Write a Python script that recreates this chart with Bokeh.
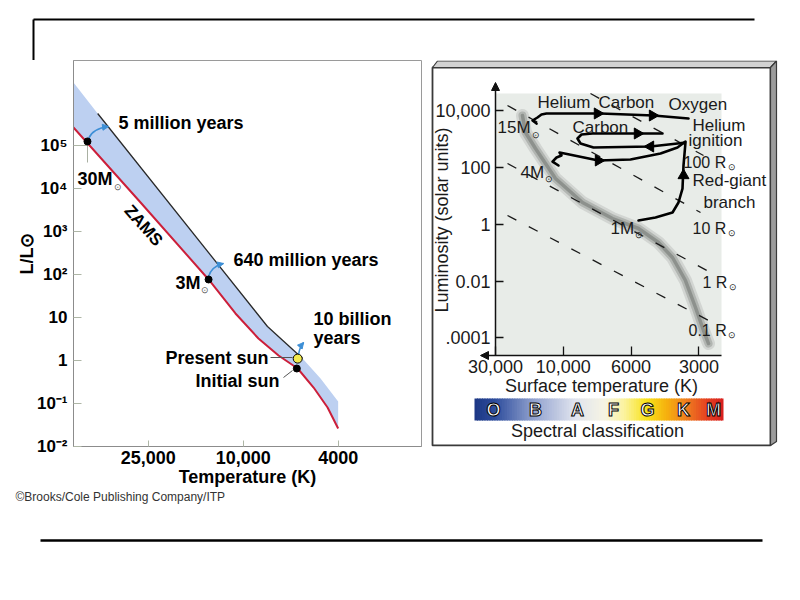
import math
from bokeh.plotting import figure
from bokeh.layouts import column, row
from bokeh.core.properties import value
from bokeh.models import (Range1d, FixedTicker, Label, Arrow, NormalHead, LogScale,
                          LogAxis, LinearAxis)
from bokeh.embed import file_html
from bokeh.resources import INLINE

FONT = "Liberation Sans"

# ======================= DATA =======================
# ---- left panel: main-sequence band, temperature (K) vs luminosity (L_sun)
left_xticks = [25000, 10000, 4000]
left_xtick_labels = ["25,000", "10,000", "4000"]
left_yticks = [1e5, 1e4, 1e3, 1e2, 10.0, 1.0, 0.1, 0.01]
left_ytick_labels = ["10⁵", "10⁴", "10³", "10²", "10", "1", "10⁻¹", "10⁻²"]

# zero-age main sequence (red line)
zams_T = [51400, 26900, 13960, 10770, 8630, 7110, 5910, 5070, 4430, 4000]
zams_L = [269000, 4800, 76.9, 12.4, 3.24, 1.30, 0.647, 0.233, 0.0798, 0.0259]
# upper edge of the shaded band
band_top_T = [51400, 40700, 7910, 5640, 4740, 4000]
band_top_L = [3.0e6, 5.69e5, 6.17, 1.11, 0.378, 0.110]
# marked stars on the ZAMS: 30 M_sun, 3 M_sun, initial sun
star_T = [44900, 13960, 5960]
star_L = [127000, 76.9, 0.647]
present_sun_T = [5910]
present_sun_L = [1.10]
# evolution arrows (start, control, end)
evo_T0 = [44400, 13960, 5860]
evo_L0 = [148600, 90.3, 1.37]
evo_Tc = [42760, 13590, 5810]
evo_Lc = [254000, 154.6, 2.0]
evo_T1 = [36640, 12090, 5580]
evo_L1 = [283000, 181.6, 2.62]

# ---- right panel: H-R diagram; x is the position on the temperature axis
# (0 = 30,000 K, 1 = 10,000 K, 2 = 6000 K, 3 = 3000 K)
right_xticks = [0, 1, 2, 3]
right_xtick_labels = ["30,000", "10,000", "6000", "3000"]
right_yticks = [1e4, 1e2, 1.0, 1e-2, 1e-4]
right_ytick_labels = ["10,000", "100", "1", "0.01", ".0001"]

ms_u = [0.398, 0.442, 0.590, 0.885, 1.283, 1.726, 2.109, 2.404, 2.611, 2.802, 2.950, 3.068, 3.142]
ms_L = [6560, 1660, 454, 40.1, 5.74, 1.57, 0.70, 0.225, 0.067, 0.0104, 1.17e-3, 1.82e-4, 6.35e-5]

trk15_u = [0.605, 0.546, 0.619, 0.678, 0.752, 1.549, 2.330, 2.847]
trk15_L = [3410, 4380, 5580, 7110, 7730, 7730, 6560, 5150]
trk4_u = [0.929, 0.841, 0.900, 0.973, 0.944, 1.018, 1.519, 1.991, 2.434, 2.684, 2.802]
trk4_L = [115, 158, 219, 258, 329, 303, 172, 187, 303, 492, 800]
trk1_u = [2.109, 2.360, 2.611, 2.699, 2.758, 2.773, 2.802, 2.684, 2.286, 1.445, 1.254, 1.209,
          1.268, 1.431, 2.463]
trk1_L = [1.34, 1.71, 2.56, 5.74, 17.8, 115, 738, 681, 533, 492, 681, 1020, 1410, 1530, 1530]

# lines of constant radius (100, 10, 1, 0.1 R_sun): start and end points
radius_u0 = [1.401, 0.177, 0.177, 0.177]
radius_L0 = [38900, 14750, 135, 2.0]
radius_u1 = [3.068, 3.024, 3.201, 3.201]
radius_L1 = [258, 2.56, 0.0184, 3.48e-4]

arrow_u = [1.504, 2.316, 2.094, 2.286, 1.519, 2.773]
arrow_L = [7730, 6560, 1530, 533, 172, 51.1]
arrow_angle = [-math.pi / 2, -math.pi / 2, -math.pi / 2, math.pi / 2, -math.pi / 2, 0.0]

spectral_classes = ["O", "B", "A", "F", "G", "K", "M"]


# ============ helpers: page pixel -> data, only for text & decorations ============
def lf_T(px):
    return 10 ** (4 + (242.67 - px) / 238.7)


def lf_L(py):
    return 10 ** (2 + (274.1 - py) / 42.9)


def hr_u(px):
    return (px - 495.0) / 67.8


def hr_L(py):
    return 10 ** ((223.6 - py) / 28.45)


def label(p, x, y, text, size, style="normal", align="left", angle=0.0, color="black",
          baseline="middle", rng="default"):
    p.add_layout(Label(x=x, y=y, text=text, text_font=FONT, text_font_size=size,
                       text_font_style=style, text_align=align, text_baseline=baseline,
                       angle=angle, text_color=color, x_range_name=rng, y_range_name=rng))


def blank(width, height):
    f = figure(width=width, height=height, x_range=Range1d(0, width), y_range=Range1d(height, 0),
               x_axis_type=None, y_axis_type=None, output_backend="svg", toolbar_location=None,
               min_border=0)
    f.outline_line_color = None
    f.grid.visible = False
    return f


# ================================ header (page y 0..60) ================================
header = blank(796, 60)
header.segment(x0=[33, 33], y0=[19, 19], x1=[754, 33], y1=[19, 60], line_color="black",
               line_width=2)

# ============================== left panel (page x 0..430, y 60..490) ==============================
left = figure(width=430, height=430, x_axis_type="log", y_axis_type="log",
              x_range=Range1d(lf_T(73), lf_T(421)), y_range=Range1d(lf_L(446), lf_L(60)),
              output_backend="svg", toolbar_location=None,
              min_border_left=73, min_border_right=9, min_border_top=0, min_border_bottom=44)
left.grid.visible = False
left.outline_line_color = "#9a9a9a"
xa, ya = left.xaxis[0], left.yaxis[0]
xa.ticker = FixedTicker(ticks=left_xticks)
xa.major_label_overrides = dict(zip(left_xticks, left_xtick_labels))
ya.ticker = FixedTicker(ticks=left_yticks)
ya.major_label_overrides = dict(zip(left_yticks, left_ytick_labels))
for ax in (xa, ya):
    ax.axis_line_color = "#8c8c8c"
    ax.major_tick_line_color = "#aeb6a6"
    ax.major_tick_out = 0
    ax.minor_tick_line_color = None
    ax.major_label_text_font = FONT
    ax.major_label_text_font_style = "bold"
    ax.major_label_text_color = "black"
    ax.axis_label_text_font = FONT
    ax.axis_label_text_font_style = "bold"
    ax.axis_label_text_font_size = "18px"
    ax.axis_label_text_color = "black"
ya.major_tick_in = 8
xa.major_tick_in = 6
ya.major_label_text_font_size = "17px"
xa.major_label_text_font_size = "18px"
ya.major_label_standoff = 6
xa.major_label_standoff = 4
ya.axis_label = "L/L⊙"
ya.axis_label_standoff = -3
xa.axis_label = "Temperature (K)"
xa.axis_label_standoff = 0

band_T = band_top_T + zams_T[::-1]
band_L = band_top_L + zams_L[::-1]
left.patch(band_T, band_L, fill_color="#bdd0f1", line_color=None)
left.line(band_top_T[1:4], band_top_L[1:4], line_color="#2a2a2a", line_width=1.3)
left.line(zams_T, zams_L, line_color="#cc1f3a", line_width=2)

# leader lines from labels to the marked stars
left.segment(x0=[lf_T(75), lf_T(87), lf_T(270), lf_T(283)],
             y0=[lf_L(145), lf_L(143), lf_L(357), lf_L(377)],
             x1=[lf_T(87), lf_T(87), lf_T(292), lf_T(292)],
             y1=[lf_L(145), lf_L(162), lf_L(357), lf_L(370)],
             line_color=["#a9b0a2", "#a9b0a2", "#555555", "#555555"], line_width=1)

BLUE = "#3d8fd6"
left.quadratic(x0=evo_T0, y0=evo_L0, x1=evo_T1, y1=evo_L1, cx=evo_Tc, cy=evo_Lc,
               line_color=BLUE, line_width=1.5)
for i in range(len(evo_T1)):
    left.add_layout(Arrow(end=NormalHead(size=6, fill_color=BLUE, line_color=BLUE),
                          x_start=evo_Tc[i], y_start=evo_Lc[i], x_end=evo_T1[i], y_end=evo_L1[i],
                          line_alpha=0))

left.scatter(star_T, star_L, size=7, color="black")
left.scatter(present_sun_T, present_sun_L, size=9, fill_color="#f3ea4c", line_color="black",
             line_width=1)

label(left, lf_T(118), lf_L(122), "5 million years", "18px", "bold")
label(left, lf_T(233), lf_L(259), "640 million years", "18px", "bold")
label(left, lf_T(313), lf_L(318), "10 billion", "18px", "bold")
label(left, lf_T(313), lf_L(337), "years", "18px", "bold")
label(left, lf_T(268), lf_L(357), "Present sun", "18px", "bold", align="right")
label(left, lf_T(195), lf_L(380), "Initial sun", "18px", "bold")
label(left, lf_T(77), lf_L(178), "30M", "18px", "bold")
label(left, lf_T(117), lf_L(186), "⊙", "9px", align="center", color="#555555")
label(left, lf_T(175), lf_L(282), "3M", "18px", "bold")
label(left, lf_T(204), lf_L(289), "⊙", "9px", align="center", color="#555555")
label(left, lf_T(143), lf_L(225), "ZAMS", "17px", "bold", align="center", angle=-0.845)

# ============================== right panel (page x 430..796, y 60..490) ==============================
# default ranges are page pixels of the panel (for its frame and the spectral bar);
# the H-R diagram itself uses the "hr" ranges (log luminosity).
right = figure(width=366, height=430, x_range=Range1d(430, 796), y_range=Range1d(446, 60),
               x_axis_type=None, y_axis_type=None,
               extra_x_ranges={"hr": Range1d(hr_u(430), hr_u(796))},
               extra_y_ranges={"hr": Range1d(hr_L(446), hr_L(60))},
               extra_y_scales={"hr": LogScale()},
               output_backend="svg", toolbar_location=None,
               min_border_left=0, min_border_right=0, min_border_top=0, min_border_bottom=44)
right.grid.visible = False
right.outline_line_color = None

# panel frame with bevel
right.quad(left=432, right=770, top=67, bottom=445, fill_color="white", line_color="#3a3a3a",
           line_width=1.8)
right.patches(xs=[[432, 437, 776, 770], [770, 776, 776, 770]],
              ys=[[67, 60.5, 60.5, 67], [67, 60.5, 441, 445]],
              fill_color=["#d2d2d2", "#9c9c9c"], line_color="#3a3a3a", line_width=1.2)

HR = dict(x_range_name="hr", y_range_name="hr")
# plotting area
right.quad(left=0, right=hr_u(721), bottom=hr_L(355), top=hr_L(93), fill_color="#e8ece8",
           line_color=None, **HR)

yb = LogAxis(fixed_location=0, bounds=(hr_L(355), hr_L(84)),
             ticker=FixedTicker(ticks=right_yticks),
             major_label_overrides=dict(zip(right_yticks, right_ytick_labels)),
             axis_label="Luminosity (solar units)", **HR)
xb = LinearAxis(fixed_location=hr_L(355), bounds=(hr_u(481), hr_u(721)),
                ticker=FixedTicker(ticks=right_xticks),
                major_label_overrides=dict(zip(right_xticks, right_xtick_labels)),
                axis_label="Surface temperature (K)", **HR)
for ax in (xb, yb):
    ax.axis_line_color = "#111111"
    ax.axis_line_width = 1.5
    ax.major_tick_line_color = "#111111"
    ax.major_tick_line_width = 1.3
    ax.major_tick_out = 0
    ax.minor_tick_line_color = None
    ax.major_label_text_font = FONT
    ax.major_label_text_font_size = "18px"
    ax.major_label_text_color = "#1a1a1a"
    ax.axis_label_text_font = FONT
    ax.axis_label_text_font_size = "18px"
    ax.axis_label_text_font_style = "normal"
    ax.axis_label_text_color = "#1a1a1a"
yb.major_tick_in = 8
xb.major_tick_in = 9
yb.major_label_standoff = 5
xb.major_label_standoff = 4
yb.axis_label_standoff = -20
xb.axis_label_standoff = 0
right.add_layout(yb, "left")
right.add_layout(xb, "below")

# axis arrow heads
right.add_layout(Arrow(end=NormalHead(size=8, fill_color="#111111", line_color="#111111"),
                       x_start=0, y_start=hr_L(88), x_end=0, y_end=hr_L(82),
                       line_color="#111111", line_width=1.5, **HR))
right.add_layout(Arrow(end=NormalHead(size=8, fill_color="#111111", line_color="#111111"),
                       x_start=hr_u(486), y_start=hr_L(355), x_end=hr_u(480), y_end=hr_L(355),
                       line_color="#111111", line_width=1.5, **HR))

# main sequence (soft grey band)
right.line(ms_u, ms_L, line_color="#c3c7c3", line_width=13, line_alpha=0.6, line_cap="round", **HR)
right.line(ms_u, ms_L, line_color="#a2a6a2", line_width=8, line_alpha=0.7, line_cap="round", **HR)
right.line(ms_u, ms_L, line_color="#7d817d", line_width=3.5, line_alpha=0.7, line_cap="round",
           **HR)

# lines of constant radius
right.multi_line(xs=[[a, b] for a, b in zip(radius_u0, radius_u1)],
                 ys=[[a, b] for a, b in zip(radius_L0, radius_L1)],
                 line_color="#1a1a1a", line_width=1.3, line_dash="10 14", **HR)

# evolutionary tracks
for tu, tl in ((trk15_u, trk15_L), (trk4_u, trk4_L), (trk1_u, trk1_L)):
    right.line(tu, tl, line_color="black", line_width=2.6, line_join="round", line_cap="round",
               **HR)
right.scatter(arrow_u, arrow_L, marker="triangle", size=11, angle=arrow_angle, color="black", **HR)

# labels on the diagram
for txt, px, py in (("Helium", 537, 102), ("Carbon", 598, 102), ("Oxygen", 668, 104),
                    ("Carbon", 572, 127), ("Helium", 692, 125), ("ignition", 688, 140),
                    ("Red-giant", 692, 180), ("branch", 703, 202),
                    ("15M", 497, 127), ("4M", 520, 172), ("1M", 610, 228)):
    label(right, hr_u(px), hr_L(py), txt, "17px", color="#1a1a1a", rng="hr")
for txt, px, py in (("100 R", 683, 162), ("10 R", 692, 228), ("1 R", 702, 282),
                    ("0.1 R", 688, 330)):
    label(right, hr_u(px), hr_L(py), txt, "16px", color="#1a1a1a", rng="hr")
for px, py in ((731, 166), (731, 232), (732, 286), (731, 334),
               (535, 134), (548, 178), (638, 234)):
    label(right, hr_u(px), hr_L(py), "⊙", "9px", align="center", color="#1a1a1a", rng="hr")

# spectral classification bar (panel pixels)
spec_stops = [(0.00, "#1c3784"), (0.08, "#2d4c9c"), (0.24, "#93a3cf"), (0.40, "#dfe3ee"),
              (0.52, "#f6f4e4"), (0.60, "#fbf3a0"), (0.69, "#f8e31c"), (0.77, "#f6b10e"),
              (0.85, "#ef7f1f"), (0.93, "#e54322"), (1.00, "#d8201f")]


def grad(t):
    for (t0, c0), (t1, c1) in zip(spec_stops[:-1], spec_stops[1:]):
        if t <= t1:
            f = (t - t0) / (t1 - t0) if t1 > t0 else 0
            a = [int(c0[i:i + 2], 16) for i in (1, 3, 5)]
            b = [int(c1[i:i + 2], 16) for i in (1, 3, 5)]
            return "#%02x%02x%02x" % tuple(round(a[k] + (b[k] - a[k]) * f) for k in range(3))
    return spec_stops[-1][1]


bar_x0, bar_x1, nslices = 474.0, 723.0, 100
step = (bar_x1 - bar_x0) / nslices
right.quad(left=[bar_x0 + i * step for i in range(nslices)],
           right=[min(bar_x0 + (i + 1.4) * step, bar_x1) for i in range(nslices)],
           top=398, bottom=420, fill_color=[grad((i + 0.5) / nslices) for i in range(nslices)],
           line_color=None)
right.text(x=[493, 535, 577, 613, 647, 683, 713], y=[409] * 7, text=spectral_classes,
           text_color="white", text_outline_color="black", text_font=value(FONT),
           text_font_style="bold", text_font_size=value("18px"), text_align="center",
           text_baseline="middle")
right.text(x=[597], y=[430], text=["Spectral classification"], text_color="#1a1a1a",
           text_font=value(FONT), text_font_size=value("18px"), text_align="center",
           text_baseline="middle")

# ================================ footer (page y 490..598) ================================
footer = blank(796, 108)
footer.text(x=[15], y=[6], text=["©Brooks/Cole Publishing Company/ITP"], text_color="#333333",
            text_font=value(FONT), text_font_size=value("12px"), text_align="left",
            text_baseline="middle")
footer.segment(x0=[40], y0=[50], x1=[762], y1=[50], line_color="black", line_width=2.5)

layout = column(header, row(left, right), footer)
open("out.html", "w").write(file_html(layout, INLINE, title="Stellar evolution"))
